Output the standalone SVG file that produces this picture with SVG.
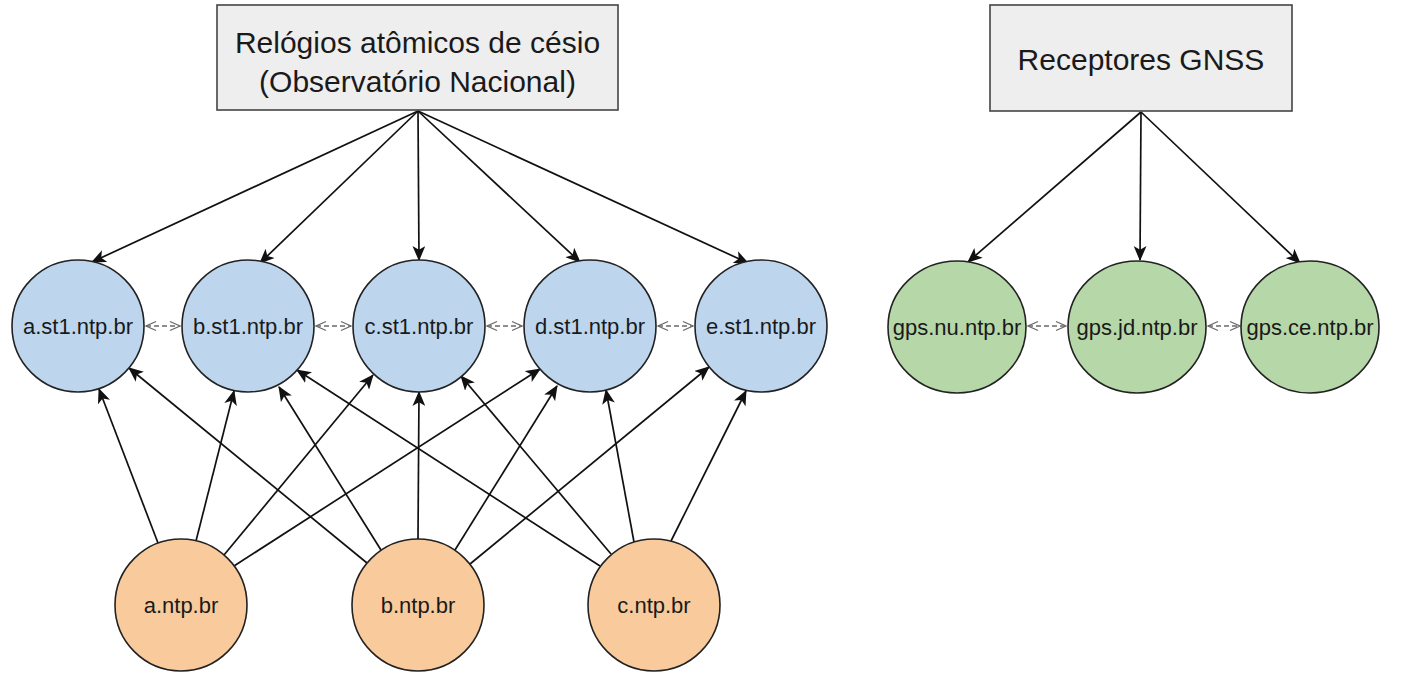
<svg xmlns="http://www.w3.org/2000/svg" width="1409" height="674" viewBox="0 0 1409 674">
<defs>
<style>
.box{fill:#eeeeee;stroke:#444;stroke-width:1.6}
.blue{fill:#bdd6ee;stroke:#222;stroke-width:1.6}
.green{fill:#b6d7a8;stroke:#222;stroke-width:1.6}
.orange{fill:#f9cb9c;stroke:#222;stroke-width:1.6}
.t{font-family:"Liberation Sans",Arial,sans-serif;fill:#1a1a1a;text-anchor:middle}
.big{font-size:30px}
.n{font-size:22px}
.e{stroke:#111;stroke-width:1.7;fill:none;marker-end:url(#arr)}
.d{stroke:#6a6a6a;stroke-width:1.3;fill:none;stroke-dasharray:5 3;marker-start:url(#open);marker-end:url(#open)}
</style>
<marker id="arr" viewBox="0 0 14 12" refX="13" refY="6" markerWidth="15" markerHeight="13" markerUnits="userSpaceOnUse" orient="auto">
<path d="M0,0 L14,6 L0,12 L3.5,6 Z" fill="#111"/>
</marker>
<marker id="open" viewBox="0 0 12 12" refX="11" refY="6" markerWidth="12" markerHeight="12" markerUnits="userSpaceOnUse" orient="auto-start-reverse">
<path d="M1,1.5 L11,6 L1,10.5" fill="none" stroke="#6a6a6a" stroke-width="1.3"/>
</marker>
</defs>

<g id="connectors">
<line class="e" x1="418" y1="111" x2="92" y2="262"/>
<line class="e" x1="418" y1="111" x2="260" y2="263"/>
<line class="e" x1="418" y1="111" x2="419" y2="260"/>
<line class="e" x1="418" y1="111" x2="580" y2="262"/>
<line class="e" x1="418" y1="111" x2="748" y2="263"/>
<line class="e" x1="1141" y1="112" x2="968" y2="262"/>
<line class="e" x1="1141" y1="112" x2="1140" y2="260"/>
<line class="e" x1="1141" y1="112" x2="1300" y2="263"/>
<line class="e" x1="158" y1="543" x2="99" y2="389"/>
<line class="e" x1="196" y1="541" x2="234" y2="391"/>
<line class="e" x1="224" y1="555" x2="373" y2="375"/>
<line class="e" x1="234" y1="566" x2="540" y2="369"/>
<line class="e" x1="367" y1="563" x2="129" y2="368"/>
<line class="e" x1="381" y1="550" x2="279" y2="387"/>
<line class="e" x1="418" y1="539" x2="419" y2="392"/>
<line class="e" x1="455" y1="550" x2="557" y2="386"/>
<line class="e" x1="470" y1="564" x2="709" y2="367"/>
<line class="e" x1="600" y1="566" x2="297" y2="370"/>
<line class="e" x1="611" y1="554" x2="461" y2="376"/>
<line class="e" x1="634" y1="542" x2="606" y2="390"/>
<line class="e" x1="671" y1="541" x2="746" y2="391"/>
<line class="d" x1="146" y1="326" x2="180" y2="326"/>
<line class="d" x1="316" y1="326" x2="351" y2="326"/>
<line class="d" x1="487" y1="326" x2="522" y2="326"/>
<line class="d" x1="658" y1="326" x2="693" y2="326"/>
<line class="d" x1="1028" y1="326" x2="1066" y2="326"/>
<line class="d" x1="1208" y1="326" x2="1240" y2="326"/>
</g>

<g id="cesio">
<rect class="box" x="217" y="5" width="401" height="105"/>
<text class="t big" x="417.5" y="53">Relógios atômicos de césio</text>
<text class="t big" x="417.5" y="92">(Observatório Nacional)</text>
</g>
<g id="gnss">
<rect class="box" x="990" y="5" width="302" height="106"/>
<text class="t big" x="1141" y="70">Receptores GNSS</text>
</g>

<g id="a-st1"><circle class="blue" cx="78" cy="326" r="66"/><text class="t n" x="78" y="334">a.st1.ntp.br</text></g>
<g id="b-st1"><circle class="blue" cx="248" cy="326" r="66"/><text class="t n" x="248" y="334">b.st1.ntp.br</text></g>
<g id="c-st1"><circle class="blue" cx="419" cy="326" r="66"/><text class="t n" x="419" y="334">c.st1.ntp.br</text></g>
<g id="d-st1"><circle class="blue" cx="590" cy="326" r="66"/><text class="t n" x="590" y="334">d.st1.ntp.br</text></g>
<g id="e-st1"><circle class="blue" cx="761" cy="326" r="66"/><text class="t n" x="761" y="334">e.st1.ntp.br</text></g>

<g id="gps-nu"><ellipse class="green" cx="957" cy="327" rx="69" ry="66"/><text class="t n" x="957" y="335">gps.nu.ntp.br</text></g>
<g id="gps-jd"><ellipse class="green" cx="1137" cy="327" rx="69" ry="66"/><text class="t n" x="1137" y="335">gps.jd.ntp.br</text></g>
<g id="gps-ce"><ellipse class="green" cx="1310" cy="327" rx="69" ry="66"/><text class="t n" x="1310" y="335">gps.ce.ntp.br</text></g>

<g id="a-ntp"><circle class="orange" cx="181" cy="605" r="66"/><text class="t n" x="181" y="613">a.ntp.br</text></g>
<g id="b-ntp"><circle class="orange" cx="418" cy="605" r="66"/><text class="t n" x="418" y="613">b.ntp.br</text></g>
<g id="c-ntp"><circle class="orange" cx="654" cy="605" r="66"/><text class="t n" x="654" y="613">c.ntp.br</text></g>
</svg>
